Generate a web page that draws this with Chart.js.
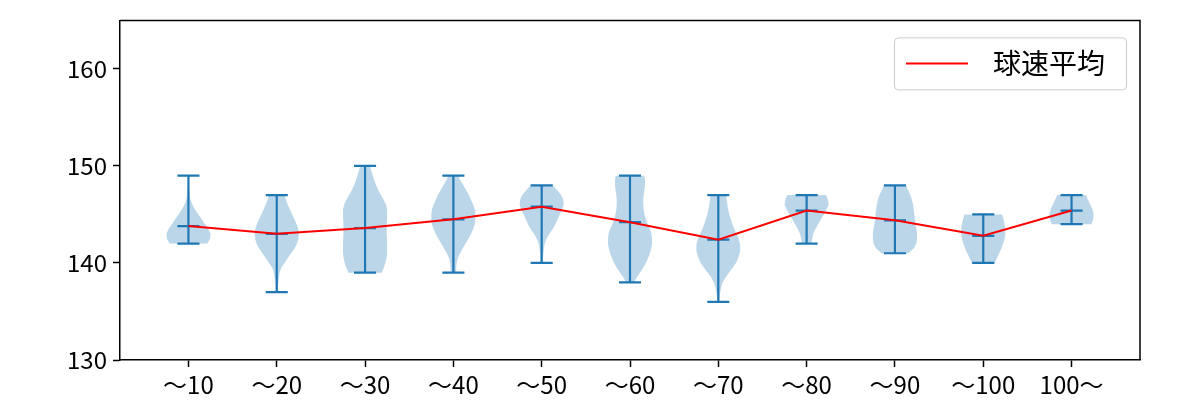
<!DOCTYPE html>
<html>
<head>
<meta charset="utf-8">
<script src="https://cdn.jsdelivr.net/npm/chart.js@4.4.1/dist/chart.umd.min.js"></script>
<style>
  html, body { margin: 0; padding: 0; background: #fff; }
  #wrap { width: 1200px; height: 400px; }
</style>
</head>
<body>
<div id="wrap"><canvas id="chart"></canvas></div>
<script>
// 球速 by pitch count bucket
const categories = ['〜10', '〜20', '〜30', '〜40', '〜50', '〜60', '〜70', '〜80', '〜90', '〜100', '100〜'];
const maxVals  = [149, 147, 150, 149, 148, 149, 147, 147, 148, 145, 147];
const minVals  = [142, 137, 139, 139, 140, 138, 136, 142, 141, 140, 144];
const meanVals = [143.8, 143.0, 143.6, 144.5, 145.8, 144.2, 142.4, 145.4, 144.4, 142.8, 145.4];
const yTicks = [130, 140, 150, 160];
const legendLabel = '球速平均';

// violin outline: [speed, relative density]
const shape10  = [[142,0.85],[142.5,0.98],[143,1],[143.5,0.9],[144,0.75],[144.5,0.6],[145,0.45],[145.5,0.3],[146,0.18],[146.5,0.1],[147,0.06],[147.5,0.04],[148,0.03],[148.5,0.02],[149,0.02]];
const shape20  = [[137,0.04],[137.5,0.05],[138,0.07],[138.5,0.1],[139,0.13],[139.5,0.2],[140,0.35],[140.5,0.5],[141,0.65],[141.5,0.8],[142,0.92],[142.5,0.98],[143,1],[143.5,0.97],[144,0.9],[144.5,0.8],[145,0.7],[145.5,0.6],[146,0.5],[146.5,0.42],[147,0.35]];
const shape30  = [[139,0.75],[139.5,0.85],[140,0.92],[140.5,0.97],[141,1],[142,1],[143,0.98],[144,0.98],[145,1],[145.5,1],[146,0.95],[146.5,0.85],[147,0.72],[147.5,0.6],[148,0.5],[148.5,0.42],[149,0.35],[149.5,0.28],[150,0.22]];
const shape40  = [[139,0.12],[139.5,0.13],[140,0.15],[140.5,0.2],[141,0.3],[141.5,0.42],[142,0.55],[142.5,0.68],[143,0.8],[143.5,0.9],[144,0.97],[144.5,1],[145,1],[145.5,0.97],[146,0.9],[146.5,0.8],[147,0.7],[147.5,0.58],[148,0.45],[148.5,0.32],[149,0.22]];
const shape50  = [[140,0.05],[140.5,0.06],[141,0.08],[141.5,0.1],[142,0.14],[142.5,0.22],[143,0.35],[143.5,0.5],[144,0.62],[144.5,0.72],[145,0.82],[145.5,0.92],[146,1],[146.5,0.98],[147,0.88],[147.5,0.7],[148,0.5]];
const shape60  = [[138,0.18],[138.5,0.3],[139,0.45],[139.5,0.6],[140,0.72],[140.5,0.82],[141,0.9],[141.5,0.96],[142,1],[142.5,1],[143,0.97],[143.5,0.9],[144,0.8],[144.5,0.72],[145,0.66],[145.5,0.62],[146,0.6],[146.5,0.6],[147,0.62],[147.5,0.65],[148,0.68],[148.5,0.68],[149,0.65]];
const shape70  = [[136,0.04],[136.5,0.06],[137,0.09],[137.5,0.13],[138,0.2],[138.5,0.32],[139,0.48],[139.5,0.65],[140,0.8],[140.5,0.9],[141,0.97],[141.5,1],[142,0.98],[142.5,0.92],[143,0.82],[143.5,0.72],[144,0.64],[144.5,0.57],[145,0.5],[145.5,0.45],[146,0.41],[146.5,0.38],[147,0.35]];
const shape80  = [[142,0.22],[142.5,0.25],[143,0.3],[143.5,0.4],[144,0.52],[144.5,0.65],[145,0.78],[145.5,0.9],[146,1],[146.5,0.97],[147,0.88]];
const shape90  = [[141,0.6],[141.5,0.85],[142,0.97],[142.5,1],[143,1],[143.5,0.97],[144,0.93],[144.5,0.9],[145,0.88],[145.5,0.85],[146,0.82],[146.5,0.77],[147,0.7],[147.5,0.6],[148,0.5]];
const shape100 = [[140,0.52],[140.5,0.62],[141,0.72],[141.5,0.82],[142,0.9],[142.5,0.97],[143,1],[143.5,1],[144,0.97],[144.5,0.92],[145,0.85]];
const shapeOver = [[144,0.9],[144.5,0.98],[145,1],[145.5,0.95],[146,0.85],[146.5,0.75],[147,0.65]];
const violinShapes = [shape10, shape20, shape30, shape40, shape50, shape60, shape70, shape80, shape90, shape100, shapeOver];

const BLUE = '#1f77b4';
const FONT = '"Noto Sans CJK JP", "Noto Sans", sans-serif';

const violinPlugin = {
  id: 'violins',
  beforeDatasetsDraw(chart) {
    const ctx = chart.ctx;
    const x = chart.scales.x, y = chart.scales.y;
    const area = chart.chartArea;
    ctx.save();
    ctx.beginPath();
    ctx.rect(area.left, area.top, area.right - area.left, area.bottom - area.top);
    ctx.clip();
    violinShapes.forEach((shape, i) => {
      const pos = i + 1;
      // body
      ctx.beginPath();
      shape.forEach(([v, w], j) => {
        const px = x.getPixelForValue(pos + w * 0.25), py = y.getPixelForValue(v);
        if (j === 0) ctx.moveTo(px, py); else ctx.lineTo(px, py);
      });
      for (let j = shape.length - 1; j >= 0; j--) {
        const [v, w] = shape[j];
        ctx.lineTo(x.getPixelForValue(pos - w * 0.25), y.getPixelForValue(v));
      }
      ctx.closePath();
      ctx.fillStyle = 'rgba(31,119,180,0.3)';
      ctx.fill();

      // whisker + caps
      ctx.strokeStyle = BLUE;
      ctx.lineWidth = 2.2;
      const cx = x.getPixelForValue(pos);
      ctx.beginPath();
      ctx.moveTo(cx, y.getPixelForValue(minVals[i]));
      ctx.lineTo(cx, y.getPixelForValue(maxVals[i]));
      [minVals[i], maxVals[i], meanVals[i]].forEach(v => {
        const py = y.getPixelForValue(v);
        ctx.moveTo(x.getPixelForValue(pos - 0.125), py);
        ctx.lineTo(x.getPixelForValue(pos + 0.125), py);
      });
      ctx.stroke();
    });
    ctx.restore();
  },
  afterDraw(chart) {
    const ctx = chart.ctx;
    const area = chart.chartArea;

    // top and right spines
    ctx.save();
    ctx.strokeStyle = '#000';
    ctx.lineWidth = 1.5;
    ctx.beginPath();
    ctx.moveTo(area.left, area.top);
    ctx.lineTo(area.right, area.top);
    ctx.lineTo(area.right, area.bottom);
    ctx.stroke();

    // legend box in upper right of the axes
    const w = 232, h = 52;
    const left = area.right - 14 - w, top = area.top + 17;
    ctx.beginPath();
    ctx.roundRect(left + 0.5, top + 0.5, w, h, 4);
    ctx.fillStyle = 'rgba(255,255,255,0.8)';
    ctx.fill();
    ctx.strokeStyle = '#cccccc';
    ctx.lineWidth = 1;
    ctx.stroke();
    const my = top + h / 2;
    ctx.beginPath();
    ctx.moveTo(left + 12, my);
    ctx.lineTo(left + 74, my);
    ctx.strokeStyle = 'red';
    ctx.lineWidth = 2;
    ctx.stroke();
    ctx.fillStyle = '#000';
    ctx.font = '28px ' + FONT;
    ctx.textBaseline = 'middle';
    ctx.textAlign = 'left';
    ctx.fillText(legendLabel, left + 99, my);
    ctx.restore();
  }
};

new Chart(document.getElementById('chart'), {
  type: 'line',
  data: {
    datasets: [{
      label: legendLabel,
      data: meanVals.map((v, i) => ({ x: i + 1, y: v })),
      borderColor: 'red',
      borderWidth: 2,
      pointRadius: 0,
      fill: false,
      tension: 0
    }]
  },
  options: {
    responsive: true,
    maintainAspectRatio: false,
    animation: false,
    layout: { padding: { top: 19, right: 60, left: 0, bottom: 0 } },
    plugins: {
      legend: { display: false },
      tooltip: { enabled: false }
    },
    scales: {
      x: {
        type: 'linear',
        min: 0.225,
        max: 11.775,
        afterBuildTicks: scale => { scale.ticks = categories.map((c, i) => ({ value: i + 1 })); },
        afterFit: scale => { scale.height = 40; },
        ticks: {
          autoSkip: false,
          maxRotation: 0,
          padding: 3,
          color: '#000',
          font: { family: FONT, size: 24 },
          callback: (v) => categories[v - 1]
        },
        grid: { drawOnChartArea: false, color: '#000', tickLength: 7, tickWidth: 1.5 },
        border: { color: '#000', width: 1.5 }
      },
      y: {
        min: 130,
        max: 165,
        afterBuildTicks: scale => { scale.ticks = yTicks.map(v => ({ value: v })); },
        afterFit: scale => { scale.width = 120; },
        ticks: {
          padding: 6,
          color: '#000',
          font: { family: FONT, size: 24 }
        },
        grid: { drawOnChartArea: false, color: '#000', tickLength: 7, tickWidth: 1.5 },
        border: { color: '#000', width: 1.5 }
      }
    }
  },
  plugins: [violinPlugin]
});
</script>
</body>
</html>
